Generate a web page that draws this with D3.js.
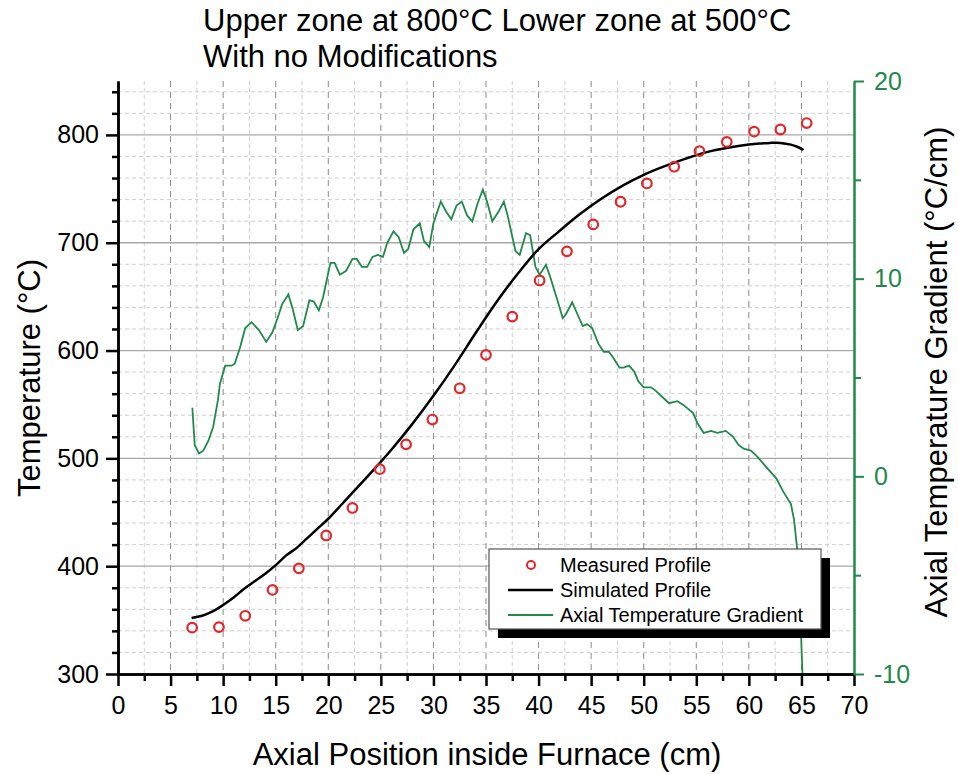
<!DOCTYPE html>
<html>
<head>
<meta charset="utf-8">
<script src="https://cdn.jsdelivr.net/npm/d3@7"></script>
<style>
  body { margin: 0; background: #fff; }
  text { font-family: "Liberation Sans", Arial, sans-serif; }
</style>
</head>
<body>
<div id="chart"></div>
<script>
// measured points (red circles)
var measX = [7.05, 9.6, 12.1, 14.7, 17.2, 19.8, 22.3, 24.9, 27.4, 29.9, 32.5, 35.0, 37.5, 40.1, 42.7, 45.2, 47.8, 50.3, 52.9, 55.3, 57.9, 60.5, 63.0, 65.5]
var measTemp = [343, 343.5, 354, 378, 398, 428.5, 454, 490, 513, 536, 565, 596, 631.5, 665, 692, 717, 738, 755, 770.5, 785, 793.5, 803, 805, 811]

// simulated profile (black line)
var simX = [7, 8, 9, 10, 11, 12, 13, 14, 15, 16, 17, 18, 19, 20, 22, 24, 26, 28, 30, 32, 34, 36, 38, 40, 42, 44, 46, 48, 50, 52, 54, 56, 58, 60, 61, 62, 63, 64, 64.6, 65.2]
var simTemp = [352, 354, 358, 364, 371, 379, 386, 393, 401, 410, 417, 426, 435, 444, 465, 486, 508, 532, 558, 586, 616, 645, 671, 694, 711, 727, 741, 753, 763, 771, 778, 784, 788, 791, 792, 792.6, 792.6, 791, 789, 786]

// axial temperature gradient (green line, right axis)
var gradX = [7.07, 7.3, 7.7, 8.1, 8.6, 9.05, 9.5, 9.7, 10.2, 10.8, 11.1, 11.6, 12.1, 12.7, 13.4, 14.1, 14.7, 15.3, 15.6, 16.2, 16.6, 17.1, 17.6, 18.2, 18.6, 19.1, 19.5, 20.2, 20.6, 21.1, 21.7, 22.3, 22.7, 23.2, 23.7, 24.2, 24.7, 25.2, 25.6, 26.2, 26.7, 27.2, 27.6, 28.1, 28.7, 29.1, 29.6, 30.0, 30.7, 31.2, 31.7, 32.2, 32.7, 33.2, 33.7, 34.2, 34.7, 35.1, 35.6, 36.2, 36.7, 37.1, 37.8, 38.2, 38.8, 39.2, 39.7, 40.1, 40.7, 41.1, 41.8, 42.3, 42.6, 43.2, 43.7, 44.2, 44.6, 45.1, 45.7, 46.2, 46.7, 47.1, 47.7, 48.1, 48.6, 49.1, 49.5, 50.0, 50.7, 51.1, 51.8, 52.4, 53.2, 53.8, 54.7, 55.1, 55.7, 56.4, 57.0, 57.8, 58.5, 59.0, 59.5, 60.2, 60.8, 61.6, 62.6, 63.3, 64.0, 64.3, 64.6, 64.8, 64.95, 65.1]
var gradVal = [3.47, 1.57, 1.16, 1.3, 1.8, 2.5, 3.84, 4.7, 5.6, 5.6, 5.7, 6.5, 7.5, 7.8, 7.4, 6.8, 7.3, 8.2, 8.7, 9.2, 8.5, 7.4, 7.6, 8.9, 8.85, 8.4, 9.05, 10.8, 10.8, 10.2, 10.4, 11.0, 11.0, 10.6, 10.6, 11.1, 11.2, 11.1, 11.8, 12.4, 12.1, 11.3, 11.5, 12.5, 12.8, 11.9, 11.6, 12.8, 13.9, 13.4, 13.0, 13.7, 13.9, 13.2, 12.9, 13.8, 14.5, 13.9, 12.9, 13.4, 13.9, 13.1, 11.4, 11.2, 12.3, 12.2, 10.6, 10.2, 10.7, 10.1, 8.9, 8.0, 8.2, 8.8, 8.2, 7.6, 7.7, 7.5, 6.7, 6.3, 6.3, 6.0, 5.5, 5.5, 5.6, 5.3, 4.8, 4.5, 4.5, 4.35, 4.0, 3.7, 3.8, 3.6, 3.2, 2.7, 2.2, 2.3, 2.2, 2.3, 2.0, 1.6, 1.4, 1.3, 1.0, 0.5, -0.1, -0.8, -1.4, -2.2, -3.7, -5.6, -7.8, -10]

var xMajor = [0, 5, 10, 15, 20, 25, 30, 35, 40, 45, 50, 55, 60, 65, 70]
var yLeftMajor = [300, 400, 500, 600, 700, 800]
var yRightMajor = [-10, 0, 10, 20]
var legendLabels = ["Measured Profile", "Simulated Profile", "Axial Temperature Gradient"]

var width = 958, height = 774
var mLeft = 118, mRight = 854, mTop = 81, mBottom = 674
var green = "#22894a"

var svg = d3.select("#chart").append("svg")
  .attr("width", width)
  .attr("height", height)

var x = d3.scaleLinear().domain([0, 70]).range([mLeft, mRight])
var yL = d3.scaleLinear().domain([300, 850]).range([mBottom, mTop])
var yR = d3.scaleLinear().domain([-10, 20]).range([mBottom, mTop])

var xMinor = d3.range(2.5, 70, 5)
var yLeftMinor = d3.range(320, 850, 20).filter(function (d) { return d % 100 !== 0 })
var yRightMinor = [-5, 5, 15]

// grid
var grid = svg.append("g")
grid.selectAll(".hminor").data(yLeftMinor).enter().append("line")
  .attr("x1", mLeft).attr("x2", mRight)
  .attr("y1", function (d) { return yL(d) }).attr("y2", function (d) { return yL(d) })
  .attr("stroke", "#cfcfcf").attr("stroke-width", 1).attr("stroke-dasharray", "4,3")
grid.selectAll(".vminor").data(xMinor).enter().append("line")
  .attr("x1", function (d) { return x(d) }).attr("x2", function (d) { return x(d) })
  .attr("y1", mTop).attr("y2", mBottom)
  .attr("stroke", "#cfcfcf").attr("stroke-width", 1).attr("stroke-dasharray", "4,3")
grid.selectAll(".vmajor").data(xMajor.slice(1, -1)).enter().append("line")
  .attr("x1", function (d) { return x(d) }).attr("x2", function (d) { return x(d) })
  .attr("y1", mTop).attr("y2", mBottom)
  .attr("stroke", "#8a8a8a").attr("stroke-width", 1).attr("stroke-dasharray", "6,5")
grid.selectAll(".hmajor").data(yLeftMajor.slice(1)).enter().append("line")
  .attr("x1", mLeft).attr("x2", mRight)
  .attr("y1", function (d) { return yL(d) }).attr("y2", function (d) { return yL(d) })
  .attr("stroke", "#a8a8a8").attr("stroke-width", 1.3)

// green gradient line
var gradLine = d3.line()
  .x(function (d) { return x(d[0]) })
  .y(function (d) { return yR(d[1]) })
svg.append("path")
  .datum(d3.zip(gradX, gradVal))
  .attr("d", gradLine)
  .attr("fill", "none")
  .attr("stroke", green)
  .attr("stroke-width", 1.8)

// simulated line
var simLine = d3.line()
  .curve(d3.curveCatmullRom)
  .x(function (d) { return x(d[0]) })
  .y(function (d) { return yL(d[1]) })
svg.append("path")
  .datum(d3.zip(simX, simTemp))
  .attr("d", simLine)
  .attr("fill", "none")
  .attr("stroke", "#000")
  .attr("stroke-width", 2.5)

// measured points
svg.append("g").selectAll("circle")
  .data(d3.zip(measX, measTemp))
  .enter().append("circle")
  .attr("cx", function (d) { return x(d[0]) })
  .attr("cy", function (d) { return yL(d[1]) })
  .attr("r", 4.8)
  .attr("fill", "none")
  .attr("stroke", "#e3262b")
  .attr("stroke-width", 2.2)

// axes
function styleAxis(g, color, w) {
  g.select(".domain").attr("stroke", color).attr("stroke-width", w)
  g.selectAll(".tick line").attr("stroke", color).attr("stroke-width", w)
  g.selectAll("text").attr("fill", color)
    .style("font-family", '"Liberation Sans", Arial, sans-serif')
    .style("font-size", "25px")
}
var plain = function (d) { return String(d) }

var xMinorAxis = svg.append("g").attr("transform", "translate(0," + mBottom + ")")
  .call(d3.axisBottom(x).tickValues(xMinor).tickSize(7).tickFormat("").tickSizeOuter(0))
styleAxis(xMinorAxis, "#000", 2.5)
var xAxis = svg.append("g").attr("transform", "translate(0," + mBottom + ")")
  .call(d3.axisBottom(x).tickValues(xMajor).tickFormat(plain).tickSize(12).tickPadding(10).tickSizeOuter(0))
styleAxis(xAxis, "#000", 2.5)

var yMinorAxis = svg.append("g").attr("transform", "translate(" + mLeft + ",0)")
  .call(d3.axisLeft(yL).tickValues(yLeftMinor).tickSize(6).tickFormat("").tickSizeOuter(0))
styleAxis(yMinorAxis, "#000", 2.5)
var yAxis = svg.append("g").attr("transform", "translate(" + mLeft + ",0)")
  .call(d3.axisLeft(yL).tickValues(yLeftMajor).tickFormat(plain).tickSize(12).tickPadding(7).tickSizeOuter(0))
styleAxis(yAxis, "#000", 2.5)

var yRMinorAxis = svg.append("g").attr("transform", "translate(" + mRight + ",0)")
  .call(d3.axisRight(yR).tickValues(yRightMinor).tickSize(7).tickFormat("").tickSizeOuter(0))
styleAxis(yRMinorAxis, green, 2)
var yRAxis = svg.append("g").attr("transform", "translate(" + mRight + ",0)")
  .call(d3.axisRight(yR).tickValues(yRightMajor).tickFormat(plain).tickSize(10).tickPadding(10).tickSizeOuter(0))
styleAxis(yRAxis, green, 2)

// titles
svg.append("text").attr("x", 203).attr("y", 31)
  .style("font-size", "31px").text("Upper zone at 800°C Lower zone at 500°C")
svg.append("text").attr("x", 203).attr("y", 67)
  .style("font-size", "31px").text("With no Modifications")

svg.append("text")
  .attr("transform", "translate(487,765)")
  .attr("text-anchor", "middle").style("font-size", "31px")
  .text("Axial Position inside Furnace (cm)")
svg.append("text")
  .attr("transform", "translate(40,378) rotate(-90)")
  .attr("text-anchor", "middle").style("font-size", "31px")
  .text("Temperature (°C)")
svg.append("text")
  .attr("transform", "translate(947,372) rotate(-90)")
  .attr("text-anchor", "middle").style("font-size", "31px")
  .text("Axial Temperature Gradient (°C/cm)")

// legend
var lg = svg.append("g").attr("transform", "translate(489,549)")
lg.append("rect").attr("x", 9).attr("y", 9).attr("width", 332).attr("height", 80).attr("fill", "#000")
lg.append("rect").attr("x", 0).attr("y", 0).attr("width", 332).attr("height", 80)
  .attr("fill", "#fff").attr("stroke", "#555").attr("stroke-width", 1.2)
lg.selectAll(".lt").data(legendLabels).enter().append("text")
  .attr("x", 71).attr("y", function (d, i) { return 23 + i * 25 })
  .style("font-size", "20px").text(function (d) { return d })
lg.append("circle").attr("cx", 42).attr("cy", 16).attr("r", 4)
  .attr("fill", "none").attr("stroke", "#e3262b").attr("stroke-width", 2)
lg.append("line").attr("x1", 19).attr("x2", 64).attr("y1", 41).attr("y2", 41)
  .attr("stroke", "#000").attr("stroke-width", 2.5)
lg.append("line").attr("x1", 19).attr("x2", 64).attr("y1", 66).attr("y2", 66)
  .attr("stroke", green).attr("stroke-width", 1.8)
</script>
</body>
</html>
